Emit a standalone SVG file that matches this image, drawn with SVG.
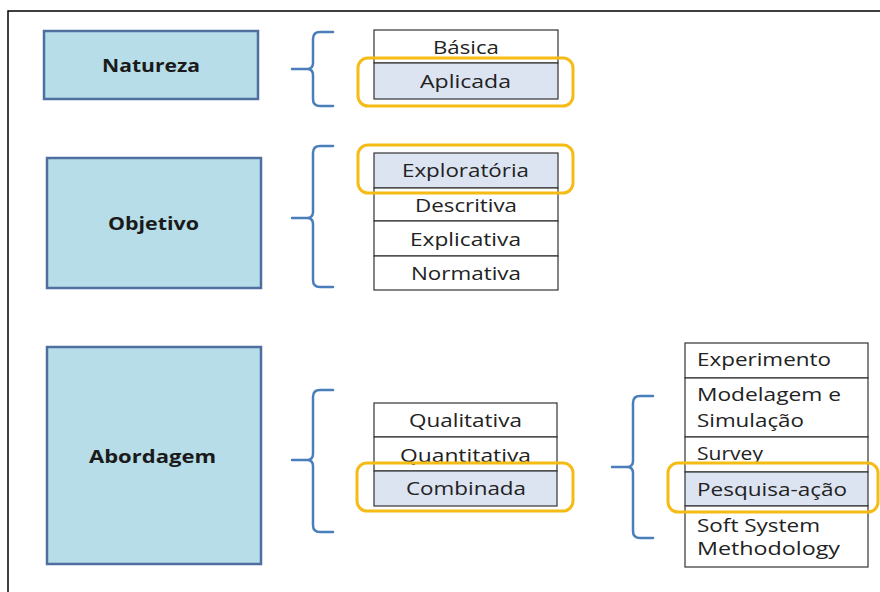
<svg xmlns="http://www.w3.org/2000/svg" width="880" height="592" viewBox="0 0 880 592">
<style>
.main{fill:#b7dde8;stroke:#4f6fa0;stroke-width:2.5}
.lbl{font-family:"Open Sans","Liberation Sans",sans-serif;font-size:18px;font-weight:bold;fill:#1a1a1a}
.cell{fill:#ffffff;stroke:#333;stroke-width:1.2}
.sel{fill:#dce4f2;stroke:#333;stroke-width:1.2}
.t{font-family:"Open Sans","Liberation Sans",sans-serif;font-size:18px;fill:#222}
.hl{fill:none;stroke:#f6bb15;stroke-width:3}
.br{fill:none;stroke:#4a7ebb;stroke-width:2.5;stroke-linecap:round;stroke-linejoin:round}
</style>
<rect width="880" height="592" fill="#ffffff"/>
<path d="M8,592 V11 H880" fill="none" stroke="#000" stroke-width="1.5"/>

<g id="natureza">
<rect class="main" x="44" y="31" width="214" height="68"/>
<text class="lbl" x="102" y="72" textLength="98" lengthAdjust="spacingAndGlyphs">Natureza</text>
</g>
<g id="objetivo">
<rect class="main" x="47" y="158" width="214" height="130"/>
<text class="lbl" x="108" y="230" textLength="91" lengthAdjust="spacingAndGlyphs">Objetivo</text>
</g>
<g id="abordagem">
<rect class="main" x="47" y="347" width="214" height="217"/>
<text class="lbl" x="89" y="463" textLength="127" lengthAdjust="spacingAndGlyphs">Abordagem</text>
</g>

<g id="natureza-options">
<rect class="cell" x="374" y="30" width="184" height="33"/>
<text class="t" x="433" y="54" textLength="66" lengthAdjust="spacingAndGlyphs">Básica</text>
<rect class="sel" x="374" y="63" width="184" height="36"/>
<text class="t" x="420" y="88" textLength="91" lengthAdjust="spacingAndGlyphs">Aplicada</text>
<rect class="hl" x="358" y="58" width="215" height="48" rx="10"/>
</g>

<g id="objetivo-options">
<rect class="sel" x="374" y="153" width="184" height="35"/>
<text class="t" x="402" y="177" textLength="127" lengthAdjust="spacingAndGlyphs">Exploratória</text>
<rect class="cell" x="374" y="188" width="184" height="33"/>
<text class="t" x="415" y="212" textLength="102" lengthAdjust="spacingAndGlyphs">Descritiva</text>
<rect class="cell" x="374" y="221" width="184" height="35"/>
<text class="t" x="410" y="246" textLength="111" lengthAdjust="spacingAndGlyphs">Explicativa</text>
<rect class="cell" x="374" y="256" width="184" height="34"/>
<text class="t" x="411" y="280" textLength="110" lengthAdjust="spacingAndGlyphs">Normativa</text>
<rect class="hl" x="358" y="145" width="215" height="48" rx="10"/>
</g>

<g id="abordagem-options">
<rect class="cell" x="374" y="403" width="183" height="34"/>
<text class="t" x="409" y="427" textLength="113" lengthAdjust="spacingAndGlyphs">Qualitativa</text>
<rect class="cell" x="374" y="437" width="183" height="34"/>
<text class="t" x="400" y="462" textLength="131" lengthAdjust="spacingAndGlyphs">Quantitativa</text>
<rect class="sel" x="374" y="471" width="183" height="35"/>
<text class="t" x="406" y="495" textLength="120" lengthAdjust="spacingAndGlyphs">Combinada</text>
<rect class="hl" x="357" y="463" width="216" height="48" rx="10"/>
</g>

<g id="metodos">
<rect class="cell" x="685" y="343" width="183" height="35"/>
<text class="t" x="697" y="366" textLength="134" lengthAdjust="spacingAndGlyphs">Experimento</text>
<rect class="cell" x="685" y="378" width="183" height="59"/>
<text class="t" x="697" y="401" textLength="144" lengthAdjust="spacingAndGlyphs">Modelagem e</text>
<text class="t" x="697" y="427" textLength="107" lengthAdjust="spacingAndGlyphs">Simulação</text>
<rect class="cell" x="685" y="437" width="183" height="35"/>
<text class="t" x="697" y="460" textLength="66" lengthAdjust="spacingAndGlyphs">Survey</text>
<rect class="sel" x="685" y="472" width="183" height="34"/>
<text class="t" x="697" y="496" textLength="150" lengthAdjust="spacingAndGlyphs">Pesquisa-ação</text>
<rect class="cell" x="685" y="506" width="183" height="61"/>
<text class="t" x="697" y="532" textLength="123" lengthAdjust="spacingAndGlyphs">Soft System</text>
<text class="t" x="697" y="555" textLength="143" lengthAdjust="spacingAndGlyphs">Methodology</text>
<rect class="hl" x="668" y="463" width="210" height="49" rx="10"/>
</g>

<g id="connectors">
<path class="br" d="M333,32 H320 Q313,32 313,39 V63 Q313,69 307,69 H292 M307,69 Q313,69 313,75 V99 Q313,106 320,106 H333"/>
<path class="br" d="M333,146 H320 Q313,146 313,153 V212 Q313,218 307,218 H292 M307,218 Q313,218 313,224 V280 Q313,287 320,287 H333"/>
<path class="br" d="M333,390 H320 Q313,390 313,397 V454 Q313,460 307,460 H292 M307,460 Q313,460 313,466 V525 Q313,532 320,532 H333"/>
<path class="br" d="M653,396 H640 Q633,396 633,403 V461 Q633,467 627,467 H612 M627,467 Q633,467 633,473 V531 Q633,538 640,538 H653"/>
</g>
</svg>
